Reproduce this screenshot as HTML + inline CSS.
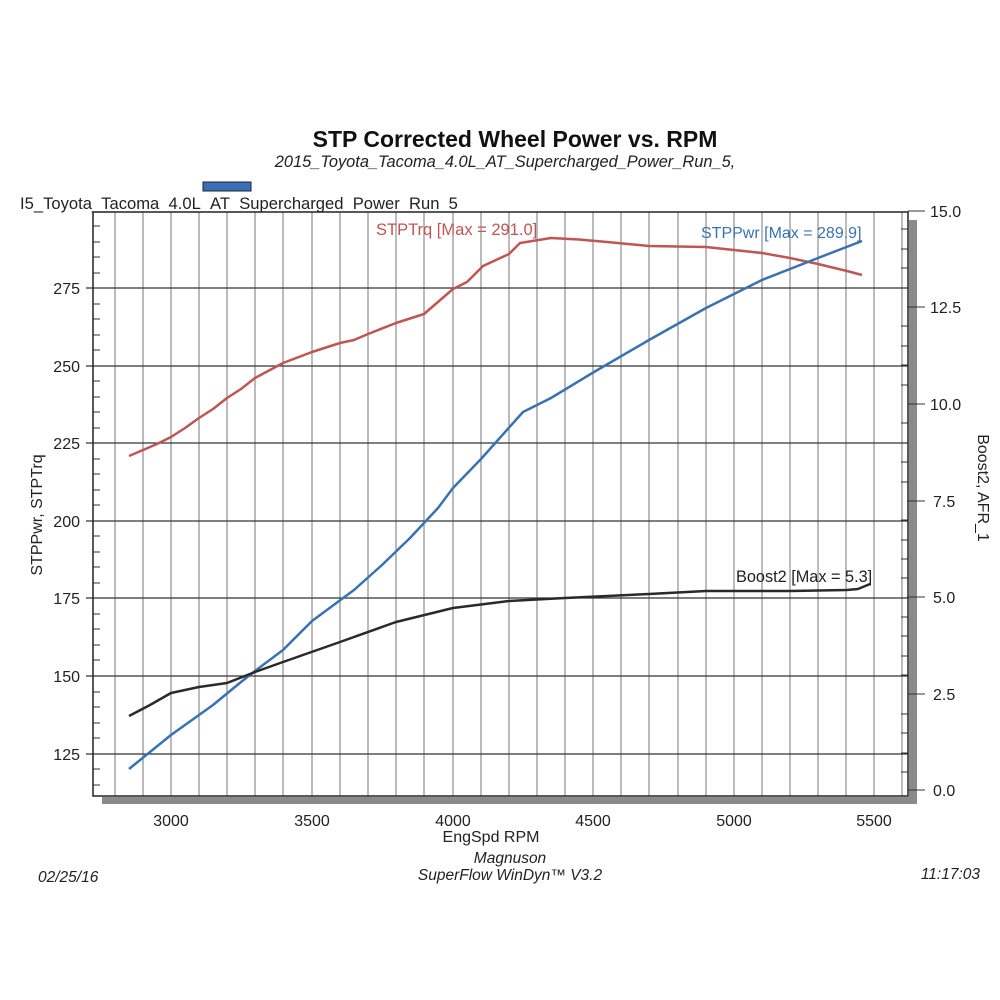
<!DOCTYPE html>
<html><head><meta charset="utf-8"><style>
body{margin:0;background:#fff;}
svg{display:block;font-family:"Liberation Sans",Arial,sans-serif;}
</style></head><body>
<svg width="1000" height="1000" viewBox="0 0 1000 1000" xmlns="http://www.w3.org/2000/svg">
<rect width="1000" height="1000" fill="#fff"/>
<text x="515" y="147" font-size="23" font-weight="bold" text-anchor="middle" fill="#111">STP Corrected Wheel Power vs. RPM</text>
<text x="505" y="167" font-size="16.4" font-style="italic" text-anchor="middle" fill="#222">2015_Toyota_Tacoma_4.0L_AT_Supercharged_Power_Run_5,</text>
<rect x="203" y="182" width="48" height="9" fill="#3a6fb8" stroke="#223" stroke-width="1"/>
<text x="20" y="209" font-size="16.6" fill="#222">I5_Toyota_Tacoma_4.0L_AT_Supercharged_Power_Run_5</text>
<rect x="909" y="220" width="8" height="583" fill="#8a8a8a"/>
<rect x="102" y="797" width="815" height="7" fill="#8a8a8a"/>
<g stroke="#777" stroke-width="1">
<line x1="115" y1="212" x2="115" y2="796"/><line x1="143" y1="212" x2="143" y2="796"/><line x1="171" y1="212" x2="171" y2="796"/><line x1="199" y1="212" x2="199" y2="796"/><line x1="227" y1="212" x2="227" y2="796"/><line x1="255" y1="212" x2="255" y2="796"/><line x1="283" y1="212" x2="283" y2="796"/><line x1="312" y1="212" x2="312" y2="796"/><line x1="340" y1="212" x2="340" y2="796"/><line x1="368" y1="212" x2="368" y2="796"/><line x1="396" y1="212" x2="396" y2="796"/><line x1="424" y1="212" x2="424" y2="796"/><line x1="453" y1="212" x2="453" y2="796"/><line x1="481" y1="212" x2="481" y2="796"/><line x1="509" y1="212" x2="509" y2="796"/><line x1="537" y1="212" x2="537" y2="796"/><line x1="565" y1="212" x2="565" y2="796"/><line x1="593" y1="212" x2="593" y2="796"/><line x1="621" y1="212" x2="621" y2="796"/><line x1="649" y1="212" x2="649" y2="796"/><line x1="678" y1="212" x2="678" y2="796"/><line x1="706" y1="212" x2="706" y2="796"/><line x1="734" y1="212" x2="734" y2="796"/><line x1="762" y1="212" x2="762" y2="796"/><line x1="790" y1="212" x2="790" y2="796"/><line x1="818" y1="212" x2="818" y2="796"/><line x1="846" y1="212" x2="846" y2="796"/><line x1="874" y1="212" x2="874" y2="796"/><line x1="902" y1="212" x2="902" y2="796"/>
</g>
<g stroke="#333" stroke-width="1.2">
<line x1="86" y1="288" x2="908" y2="288"/><line x1="86" y1="366" x2="908" y2="366"/><line x1="86" y1="443" x2="908" y2="443"/><line x1="86" y1="521" x2="908" y2="521"/><line x1="86" y1="598" x2="908" y2="598"/><line x1="86" y1="676" x2="908" y2="676"/><line x1="86" y1="754" x2="908" y2="754"/>
</g>
<g stroke="#333" stroke-width="1">
<line x1="93" y1="226" x2="100" y2="226"/><line x1="93" y1="242" x2="100" y2="242"/><line x1="93" y1="257" x2="100" y2="257"/><line x1="93" y1="273" x2="100" y2="273"/>
<line x1="93" y1="304" x2="100" y2="304"/><line x1="93" y1="319" x2="100" y2="319"/><line x1="93" y1="335" x2="100" y2="335"/><line x1="93" y1="350" x2="100" y2="350"/>
<line x1="93" y1="381" x2="100" y2="381"/><line x1="93" y1="397" x2="100" y2="397"/><line x1="93" y1="412" x2="100" y2="412"/><line x1="93" y1="428" x2="100" y2="428"/>
<line x1="93" y1="459" x2="100" y2="459"/><line x1="93" y1="474" x2="100" y2="474"/><line x1="93" y1="490" x2="100" y2="490"/><line x1="93" y1="505" x2="100" y2="505"/>
<line x1="93" y1="536" x2="100" y2="536"/><line x1="93" y1="552" x2="100" y2="552"/><line x1="93" y1="567" x2="100" y2="567"/><line x1="93" y1="583" x2="100" y2="583"/>
<line x1="93" y1="614" x2="100" y2="614"/><line x1="93" y1="629" x2="100" y2="629"/><line x1="93" y1="645" x2="100" y2="645"/><line x1="93" y1="660" x2="100" y2="660"/>
<line x1="93" y1="692" x2="100" y2="692"/><line x1="93" y1="707" x2="100" y2="707"/><line x1="93" y1="723" x2="100" y2="723"/><line x1="93" y1="738" x2="100" y2="738"/>
<line x1="93" y1="769" x2="100" y2="769"/><line x1="93" y1="785" x2="100" y2="785"/>
</g>
<g stroke="#333" stroke-width="1">
<line x1="901" y1="229" x2="908" y2="229"/><line x1="901" y1="249" x2="908" y2="249"/><line x1="901" y1="268" x2="908" y2="268"/><line x1="901" y1="288" x2="908" y2="288"/>
<line x1="901" y1="326" x2="908" y2="326"/><line x1="901" y1="346" x2="908" y2="346"/><line x1="901" y1="365" x2="908" y2="365"/><line x1="901" y1="385" x2="908" y2="385"/>
<line x1="901" y1="423" x2="908" y2="423"/><line x1="901" y1="443" x2="908" y2="443"/><line x1="901" y1="462" x2="908" y2="462"/><line x1="901" y1="482" x2="908" y2="482"/>
<line x1="901" y1="520" x2="908" y2="520"/><line x1="901" y1="540" x2="908" y2="540"/><line x1="901" y1="559" x2="908" y2="559"/><line x1="901" y1="578" x2="908" y2="578"/>
<line x1="901" y1="617" x2="908" y2="617"/><line x1="901" y1="636" x2="908" y2="636"/><line x1="901" y1="656" x2="908" y2="656"/><line x1="901" y1="675" x2="908" y2="675"/>
<line x1="901" y1="714" x2="908" y2="714"/><line x1="901" y1="733" x2="908" y2="733"/><line x1="901" y1="753" x2="908" y2="753"/><line x1="901" y1="772" x2="908" y2="772"/>
<line x1="908" y1="211" x2="925" y2="211"/><line x1="908" y1="307" x2="925" y2="307"/><line x1="908" y1="404" x2="925" y2="404"/><line x1="908" y1="501" x2="925" y2="501"/><line x1="908" y1="597" x2="925" y2="597"/><line x1="908" y1="694" x2="925" y2="694"/><line x1="908" y1="790" x2="925" y2="790"/>
</g>
<rect x="93" y="212" width="815" height="584" fill="none" stroke="#222" stroke-width="1.5"/>
<g font-size="16" fill="#222" text-anchor="end">
<text x="80" y="294">275</text><text x="80" y="372">250</text><text x="80" y="449">225</text><text x="80" y="527">200</text><text x="80" y="604">175</text><text x="80" y="682">150</text><text x="80" y="760">125</text>
</g>
<g font-size="16" fill="#222">
<text x="930" y="217">15.0</text><text x="930" y="313">12.5</text><text x="930" y="410">10.0</text><text x="933" y="507">7.5</text><text x="933" y="603">5.0</text><text x="933" y="700">2.5</text><text x="933" y="796">0.0</text>
</g>
<g font-size="16" fill="#222" text-anchor="middle">
<text x="171" y="826">3000</text><text x="312" y="826">3500</text><text x="453" y="826">4000</text><text x="593" y="826">4500</text><text x="734" y="826">5000</text><text x="874" y="826">5500</text>
<text x="491" y="842">EngSpd RPM</text>
</g>
<text transform="translate(42,515) rotate(-90)" font-size="16" fill="#222" text-anchor="middle">STPPwr, STPTrq</text>
<text transform="translate(978,488) rotate(90)" font-size="16" fill="#222" text-anchor="middle">Boost2, AFR_1</text>
<g font-size="15.5" font-style="italic" fill="#222">
<text x="38" y="882">02/25/16</text>
<text x="510" y="863" text-anchor="middle">Magnuson</text>
<text x="510" y="880" text-anchor="middle">SuperFlow WinDyn™ V3.2</text>
<text x="980" y="879" text-anchor="end">11:17:03</text>
</g>
<polyline fill="none" stroke="#c05555" stroke-width="2.5" stroke-linejoin="round" points="129,456 157,444 171,437 185,428 199,418 213,409 227,398 241,389 255,378 283,363 312,352 340,343 354,340 368,334 396,323 424,314 453,289 467,282 483,266 509,254 520,243 551,238 579,239.5 607,242 649,246 706,247 734,250 762,253 790,258 818,264 847,271 862,275"/>
<polyline fill="none" stroke="#3a72b0" stroke-width="2.5" stroke-linejoin="round" points="129,769 171,735 213,705 241,682 255,671 283,650 312,621 354,590 382,565 410,538 438,508 453,488 481,459 523,412 551,398 594,372 649,340 706,308 762,280 818,258 862,241"/>
<polyline fill="none" stroke="#2a2a2a" stroke-width="2.5" stroke-linejoin="round" points="129,716 150,705 171,693 199,687 227,683 255,672 283,662 340,642 396,622 453,608 509,601 565,598 649,594 706,591 790,591 847,590 858,589 870,584"/>
<text x="376" y="235" font-size="16.5" fill="#c05555">STPTrq [Max  = 291.0]</text>
<text x="701" y="238" font-size="16" fill="#3a72b0">STPPwr [Max = 289.9]</text>
<text x="736" y="582" font-size="16.3" fill="#222">Boost2 [Max = 5.3]</text>
</svg>
</body></html>
